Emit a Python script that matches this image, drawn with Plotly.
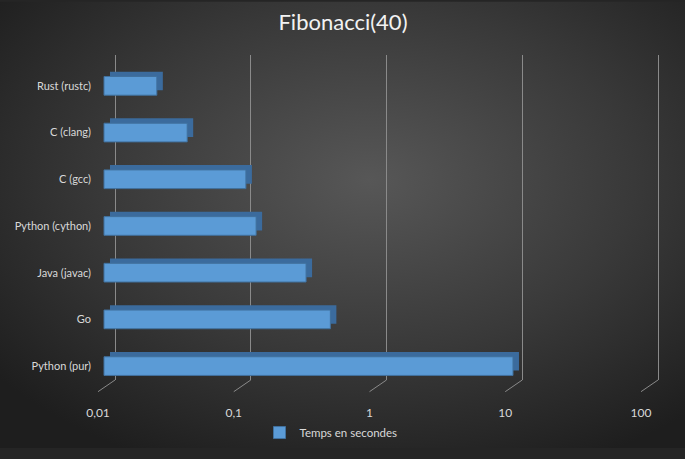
import base64
import math
import plotly.graph_objects as go

# ---- data ----
categories = ["Rust (rustc)", "C (clang)", "C (gcc)", "Python (cython)",
              "Java (javac)", "Go", "Python (pur)"]
temps = [0.0245, 0.041, 0.111, 0.132, 0.308, 0.465, 10.3]
tick_values = [0.01, 0.1, 1, 10, 100]
tick_labels = ["0,01", "0,1", "1", "10", "100"]
series_name = "Temps en secondes"
chart_title = "Fibonacci(40)"

# ---- geometry ----
W, H = 685, 459
L, R, T, B = 98, 25, 55, 70
pw = W - L - R
ph = H - T - B
D = 135.75          # pixels per decade
CAT = 48.0          # pixels per category
DEPTH_X, DEPTH_Y = 17, 12   # 3-D depth of the floor
base_val = tick_values[0]
lo = math.log10(base_val)


def xrange_px(offset_px):
    a = lo - offset_px / D
    return [a, a + pw / D]


y_lo = -14.3 / CAT
y_hi = y_lo + ph / CAT


def yrange_px(up_px):
    d = up_px / CAT
    return [y_lo - d, y_hi - d]


lengths = [t - base_val for t in temps]
order = list(reversed(categories))

FONT = "Lato, 'Open Sans', sans-serif"
GRID = "#8a8a8a"

fig = go.Figure()

# depth (top / side faces) drawn behind
fig.add_trace(go.Bar(
    y=categories, x=lengths, base=base_val, orientation="h",
    xaxis="x", yaxis="y", width=0.4,
    marker=dict(color="#3b6b9d", line=dict(width=0)),
    showlegend=False, hoverinfo="skip"))

# front faces
fig.add_trace(go.Bar(
    y=categories, x=lengths, base=base_val, orientation="h",
    xaxis="x2", yaxis="y2", width=0.4, name=series_name,
    marker=dict(color="#5b9bd6", line=dict(color="#41719e", width=1))))

# anchor trace for gridline axis
fig.add_trace(go.Scatter(
    x=tick_values, y=[categories[0]] * len(tick_values),
    xaxis="x3", yaxis="y", mode="markers",
    marker=dict(opacity=0), showlegend=False, hoverinfo="skip"))

# slanted floor lines joining each back gridline to the front edge
shapes = []
for v in tick_values:
    front = 10 ** (math.log10(v) - DEPTH_X / D)
    shapes.append(dict(type="line", xref="x3", yref="paper",
                       x0=v, x1=front, y0=0, y1=-DEPTH_Y / ph,
                       line=dict(color=GRID, width=1), layer="below"))

svg = (f'<svg xmlns="http://www.w3.org/2000/svg" width="{W}" height="{H}" '
       f'viewBox="0 0 {W} {H}" preserveAspectRatio="none">'
       '<defs><radialGradient id="g" cx="54%" cy="40%" r="70%">'
       '<stop offset="0" stop-color="#575757"/>'
       '<stop offset="0.55" stop-color="#393939"/>'
       '<stop offset="1" stop-color="#1e1e1e"/>'
       '</radialGradient></defs>'
       f'<rect width="{W}" height="{H}" fill="url(#g)"/></svg>')
src = "data:image/svg+xml;base64," + base64.b64encode(svg.encode()).decode()

fig.update_layout(
    width=W, height=H,
    margin=dict(l=L, r=R, t=T, b=B, pad=0),
    paper_bgcolor="#252525",
    plot_bgcolor="rgba(0,0,0,0)",
    bargap=0.6,
    barmode="overlay",
    title=dict(text=chart_title, x=(343 - L) / pw, xref="paper",
               xanchor="center", y=1 - 22 / H, yanchor="middle",
               font=dict(family=FONT, size=22, color="#f2f2f2")),
    font=dict(family=FONT, color="#d9d9d9"),
    images=[dict(source=src, xref="paper", yref="paper",
                 x=-L / pw, y=1 + T / ph, sizex=W / pw, sizey=H / ph,
                 xanchor="left", yanchor="top", sizing="stretch",
                 layer="below")],
    shapes=shapes,
    xaxis=dict(type="log", range=xrange_px(12), visible=False),
    yaxis=dict(type="category", categoryorder="array", categoryarray=order,
               range=yrange_px(5), visible=False),
    xaxis2=dict(type="log", range=xrange_px(6), overlaying="x", anchor="y",
                showgrid=False, zeroline=False, showline=False, ticks="",
                tickvals=tick_values, ticktext=tick_labels,
                ticklabelshift=-6, ticklabelstandoff=24,
                tickfont=dict(family=FONT, size=12, color="#d9d9d9")),
    yaxis2=dict(type="category", categoryorder="array", categoryarray=order,
                range=yrange_px(0), overlaying="y", anchor="x",
                showgrid=False, zeroline=False, showline=False, ticks="",
                ticklabelstandoff=6,
                tickfont=dict(family=FONT, size=11, color="#d9d9d9")),
    xaxis3=dict(type="log", range=xrange_px(DEPTH_X), overlaying="x", anchor="y",
                showgrid=True, gridcolor=GRID, gridwidth=1,
                tickvals=tick_values, showticklabels=False,
                zeroline=False, showline=False, ticks=""),
    legend=dict(orientation="h", x=(331 - L) / pw, xanchor="center",
                y=-(443 - (T + ph)) / ph, yanchor="middle",
                bgcolor="rgba(0,0,0,0)",
                font=dict(family=FONT, size=11.5, color="#d9d9d9")),
)

fig.write_html(
    "out.html",
    config={"displayModeBar": False},
    post_script=("document.body.style.margin='0';"
                 "document.body.style.overflow='hidden';"
                 "document.documentElement.style.overflow='hidden';"),
)
